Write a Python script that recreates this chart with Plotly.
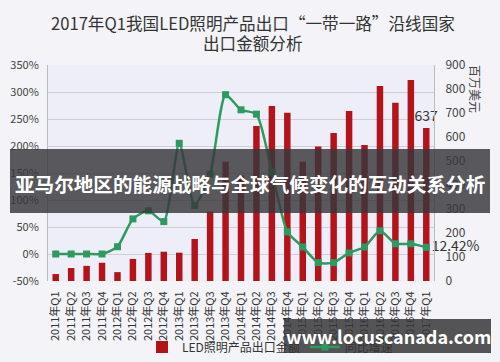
import plotly.graph_objects as go

categories = [f"{y}年Q{q}" for y in range(2011, 2017) for q in range(1, 5)] + ["2017年Q1"]
amounts = [29, 54, 63, 76, 37, 92, 117, 122, 118, 175, 289, 497, 440,
           646, 729, 701, 497, 560, 617, 708, 567, 812, 743, 837, 637]
growth = [0, 0, 0, 0, 13.5, 65, 80, 60, 205, 90, 148, 295, 267,
          259, 152, 41, 13, -16, -16, 2, 13, 43, 19, 19, 12.42]
pct_ticks = [-50, 0, 50, 100, 150, 200, 250, 300, 350]
pct_labels = [f"{v}%" for v in pct_ticks]
amt_ticks = [0, 100, 200, 300, 400, 500, 600, 700, 800, 900]

FONT = "Noto Sans CJK SC"
L, R, T, B = 48, 66, 65, 81
W, H = 500, 362
PW, PH = W - L - R, H - T - B

def px(x):
    return (x - L) / PW

def py(y):
    return (H - B - y) / PH

bar_text = [""] * (len(amounts) - 1) + [str(amounts[-1])]
line_text = [""] * (len(growth) - 1) + [f"{growth[-1]:.2f}%"]

fig = go.Figure()
fig.add_trace(go.Bar(
    x=categories, y=amounts, name="LED照明产品出口金额",
    marker=dict(color="#b3141c", line=dict(width=0)),
    width=0.42, yaxis="y",
    text=bar_text, textposition="outside", cliponaxis=False, constraintext="none",
    textfont=dict(size=14, color="#333333", family=FONT),
))
fig.add_trace(go.Scatter(
    x=categories, y=growth, name="同比增速", yaxis="y2",
    mode="lines+markers+text",
    line=dict(color="#2e9960", width=2.5, shape="spline", smoothing=0.6),
    marker=dict(symbol="square", size=7, color="#2e9960"),
    text=line_text, textposition="middle right", cliponaxis=False,
    textfont=dict(size=14, color="#333333", family=FONT),
))

fig.update_layout(
    width=W, height=H,
    margin=dict(l=L, r=R, t=T, b=B, pad=0, autoexpand=False),
    paper_bgcolor="#f3f3f8", plot_bgcolor="#eeeef8",
    font=dict(family=FONT, color="#444444", size=11),
    xaxis=dict(type="category", range=[-0.5, len(categories) - 0.5], autorange=False,
               tickangle=-90, tickfont=dict(size=11, color="#333333"),
               showgrid=False, showline=False, ticks="outside", ticklen=5, tickcolor="rgba(0,0,0,0)"),
    yaxis=dict(side="right", range=[0, 900], tickvals=amt_ticks, showgrid=False,
               zeroline=False, showline=True, linecolor="#bbbbbb", linewidth=1,
               tickfont=dict(size=12, color="#444444"), ticks="", ticklabelstandoff=8),
    yaxis2=dict(side="left", overlaying="y", range=[-50, 350], tickvals=pct_ticks,
                ticktext=pct_labels, showgrid=True, gridcolor="#cfcfd6", gridwidth=1,
                zeroline=False, showline=True, linecolor="#bbbbbb", linewidth=1,
                tickfont=dict(size=11, color="#444444"), ticks="", ticklabelstandoff=6),
    showlegend=True,
    legend=dict(orientation="h", x=px(142), y=py(347), xanchor="left", yanchor="middle",
                bgcolor="rgba(0,0,0,0)", font=dict(size=12, color="#333333"),
                itemwidth=30, traceorder="normal"),
)

fig.add_annotation(text="2017年Q1我国LED照明产品出口“一带一路”沿线国家",
                   xref="paper", yref="paper", x=px(253), y=py(23), showarrow=False,
                   font=dict(size=16.6, color="#333333", family=FONT), xanchor="center", yanchor="middle")
fig.add_annotation(text="出口金额分析",
                   xref="paper", yref="paper", x=px(253), y=py(43), showarrow=False,
                   font=dict(size=16.6, color="#333333", family=FONT), xanchor="center", yanchor="middle")
fig.add_annotation(text="百万美元", textangle=90,
                   xref="paper", yref="paper", x=px(476), y=py(89), showarrow=False,
                   font=dict(size=12, color="#444444", family=FONT), xanchor="center", yanchor="middle")

# overlay banners
fig.add_shape(type="rect", xref="paper", yref="paper", x0=px(10), x1=px(490), y0=py(213), y1=py(149),
              fillcolor="rgba(55,55,58,0.82)", line=dict(width=0), layer="above")
fig.add_annotation(text="<b>亚马尔地区的能源战略与全球气候变化的互动关系分析</b>",
                   xref="paper", yref="paper", x=px(250), y=py(183), showarrow=False,
                   font=dict(size=19.6, color="#ffffff", family=FONT), xanchor="center", yanchor="middle")
fig.add_shape(type="rect", xref="paper", yref="paper", x0=px(284), x1=px(491), y0=py(353), y1=py(319),
              fillcolor="rgba(55,55,58,0.85)", line=dict(width=0), layer="above")
fig.add_annotation(text="<b>www.locuscanada.com</b>",
                   xref="paper", yref="paper", x=px(388), y=py(336), showarrow=False,
                   font=dict(size=18, color="#ffffff", family=FONT), xanchor="center", yanchor="middle")

fig.write_html("out.html")
